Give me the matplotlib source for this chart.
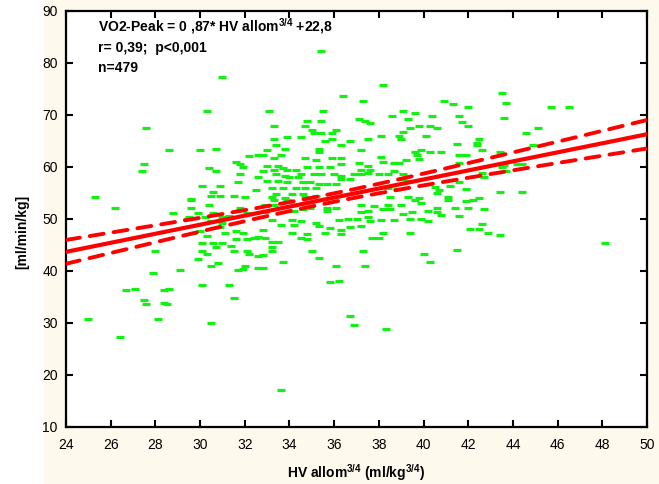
import numpy as np
import matplotlib.pyplot as plt
from matplotlib.patches import Rectangle

plt.rcParams['font.family'] = ['Liberation Sans', 'DejaVu Sans']
plt.rcParams['mathtext.fontset'] = 'custom'
plt.rcParams['mathtext.rm'] = 'Liberation Sans'
plt.rcParams['mathtext.bf'] = 'Liberation Sans:bold'

# regression stated on the chart
slope = 0.87
intercept = 22.8
n_total = 479

# scatter points (HV allom^3/4, VO2-peak)
pts = [
    (31.0, 77.3), (30.3, 70.8), (27.6, 67.5), (28.6, 63.2), (30.0, 63.2), (30.7, 63.5),
    (27.5, 60.6), (27.4, 59.2), (30.4, 59.9), (30.7, 59.2), (31.6, 60.9), (31.8, 60.5),
    (31.9, 60.0), (32.2, 62.2), (32.6, 62.3), (31.8, 58.7), (31.7, 57.2), (32.6, 58.0),
    (30.1, 56.3), (30.9, 56.3), (30.6, 55.1), (30.5, 54.4), (30.9, 54.4), (31.5, 54.4),
    (32.0, 54.2), (32.5, 55.6), (25.3, 54.2), (29.6, 53.8), (35.4, 82.4),
    (38.2, 75.8), (36.4, 73.6), (37.3, 72.7), (33.1, 70.8), (35.5, 70.8), (40.9, 72.7),
    (41.3, 72.2), (39.1, 70.8), (39.6, 70.4), (38.6, 69.8), (39.3, 69.3), (40.4, 69.8),
    (37.1, 69.3), (37.4, 68.9), (37.6, 68.4), (34.8, 68.9), (35.4, 68.9), (33.3, 67.8),
    (34.7, 67.8), (35.0, 67.1), (35.4, 66.5), (35.1, 66.5), (36.1, 67.1), (35.9, 66.5),
    (34.5, 65.7), (33.9, 65.7), (35.6, 65.0), (33.3, 65.4), (33.4, 64.3), (36.7, 65.0),
    (35.9, 65.4), (37.5, 65.4), (38.1, 66.0), (39.1, 66.7), (38.9, 66.0), (39.0, 65.4),
    (39.4, 67.5), (39.8, 67.8), (40.3, 67.8), (40.6, 67.5), (40.1, 66.0), (41.5, 64.4),
    (36.3, 64.2), (35.3, 63.5), (35.3, 62.9), (33.8, 63.5), (33.0, 63.2), (33.6, 62.3),
    (37.2, 63.2), (39.6, 62.9), (39.9, 63.2), (39.7, 62.3), (39.8, 61.5), (40.3, 62.9),
    (40.8, 62.9), (32.8, 62.3), (34.7, 61.7), (35.2, 61.4), (36.3, 61.7), (35.9, 61.7),
    (38.1, 62.0), (39.2, 61.4), (38.9, 60.8), (38.7, 60.8), (38.2, 61.0), (33.3, 61.7),
    (37.1, 60.7), (37.5, 60.2), (36.3, 60.5), (33.0, 60.1), (33.5, 60.1), (33.7, 59.8),
    (33.3, 59.4), (34.3, 59.4), (33.9, 59.4), (34.8, 60.0), (35.3, 60.0), (35.8, 60.0),
    (37.2, 59.4), (37.6, 59.4), (38.7, 59.3), (32.8, 59.3), (36.9, 58.6), (37.2, 58.6),
    (37.5, 58.9), (36.0, 58.6), (36.3, 58.3), (34.5, 58.6), (35.1, 58.6), (35.4, 58.6),
    (33.4, 58.6), (33.8, 58.3), (38.0, 58.6), (38.4, 58.6), (39.1, 58.6), (34.0, 58.0),
    (34.4, 58.0), (36.3, 57.7), (36.7, 57.7), (33.0, 57.3), (33.5, 57.3), (33.9, 57.1),
    (34.6, 57.2), (34.9, 57.1), (35.3, 56.8), (35.7, 56.8), (36.1, 56.8), (39.1, 57.7),
    (39.3, 57.4), (38.4, 56.0), (38.8, 55.7), (40.5, 56.2), (40.7, 55.6), (40.6, 55.0),
    (41.2, 56.4), (33.2, 55.9), (33.7, 55.9), (34.3, 55.9), (34.7, 55.9), (35.2, 55.9),
    (33.4, 54.9), (34.1, 54.9), (34.6, 54.9), (35.2, 54.5), (33.2, 54.3), (33.8, 54.1),
    (34.7, 54.2), (38.5, 54.3), (39.3, 54.2), (39.8, 54.1), (41.1, 54.3),
    (43.5, 74.2), (43.7, 72.3), (42.0, 71.5), (45.7, 71.5), (46.5, 71.5), (43.6, 69.4),
    (41.6, 69.8), (41.7, 68.6), (42.0, 67.9), (45.1, 67.5), (44.6, 66.5), (42.5, 65.3),
    (42.4, 64.6), (42.4, 64.2), (42.6, 63.2), (43.4, 62.9), (44.9, 64.2), (41.6, 62.3),
    (41.9, 62.3), (41.6, 60.8), (43.5, 60.0), (43.6, 60.4), (44.2, 60.6), (44.4, 60.6),
    (43.7, 59.3), (42.6, 58.9), (42.7, 58.0), (41.6, 57.2), (41.9, 55.8), (43.4, 55.1),
    (44.4, 55.1), (42.5, 54.1),
    (26.2, 52.2), (29.6, 53.7), (29.6, 52.2), (30.4, 52.6), (28.8, 51.2), (29.9, 51.2),
    (30.2, 50.3), (30.6, 51.2), (29.5, 50.3), (29.4, 50.0), (31.0, 50.3), (31.3, 50.6),
    (31.8, 52.2), (32.1, 51.2), (30.5, 49.7), (31.0, 49.3), (30.9, 48.5), (29.7, 47.3),
    (30.0, 47.6), (30.3, 46.8), (30.1, 45.4), (30.6, 45.4), (31.0, 45.4), (30.7, 44.6),
    (31.4, 44.8), (31.1, 47.4), (31.6, 47.6), (31.9, 47.4), (31.6, 46.1), (32.4, 46.3),
    (32.1, 46.1), (32.5, 46.4), (32.6, 46.6), (28.0, 43.8), (30.1, 43.8), (30.3, 43.2),
    (31.5, 43.8), (32.1, 43.8), (32.2, 43.2), (32.6, 42.9), (29.9, 42.4), (30.8, 41.6),
    (30.5, 41.0), (32.0, 41.0), (31.7, 40.2), (31.9, 40.3), (32.6, 40.5), (29.1, 40.2),
    (27.9, 39.6), (30.1, 37.3), (31.3, 37.3), (26.7, 36.3), (27.1, 36.5), (28.4, 36.3),
    (28.6, 36.5), (27.5, 34.4), (27.6, 33.6), (28.4, 33.9), (28.5, 33.6), (31.5, 34.9),
    (25.0, 30.8), (28.1, 30.8), (30.5, 30.0), (26.4, 27.4),
    (33.3, 53.7), (33.9, 53.7), (32.9, 52.7), (33.3, 52.7), (34.2, 52.7), (34.9, 52.2),
    (35.7, 52.2), (36.1, 52.2), (37.2, 52.7), (37.8, 52.5), (38.4, 52.7), (39.0, 52.7),
    (39.6, 53.7), (39.9, 53.0), (40.6, 52.1), (41.4, 52.2), (41.1, 53.7),
    (32.9, 51.3), (34.2, 51.6), (34.6, 51.9), (35.7, 51.6), (37.2, 51.3), (37.5, 51.6),
    (38.2, 51.9), (38.5, 52.0), (39.1, 51.0), (39.5, 51.3), (40.2, 51.6), (40.6, 51.3),
    (40.8, 50.7),
    (33.2, 49.8), (34.1, 49.8), (34.5, 49.7), (35.2, 49.3), (36.2, 49.8), (36.6, 50.0),
    (37.0, 50.0), (37.5, 50.3), (37.6, 49.7), (38.1, 49.8), (38.7, 49.8), (39.4, 50.0),
    (39.9, 50.0), (40.2, 49.7),
    (33.6, 48.8), (34.2, 48.8), (35.3, 48.6), (35.8, 48.2), (36.3, 47.9), (36.7, 48.5),
    (37.2, 48.6), (32.8, 47.9), (34.1, 47.3), (34.8, 47.1), (35.6, 47.4), (36.3, 47.1),
    (38.2, 47.4), (39.4, 47.4), (32.9, 46.4), (33.2, 45.6), (33.5, 45.6), (34.5, 46.4),
    (34.8, 46.1), (37.7, 46.4), (38.0, 46.4),
    (33.2, 44.7), (33.2, 43.8), (35.0, 43.8), (37.3, 43.9), (40.0, 43.2), (41.5, 44.0),
    (32.8, 43.0), (35.3, 42.5), (33.7, 41.8), (40.3, 41.8), (32.8, 40.6), (36.1, 40.9),
    (37.4, 40.9), (35.8, 37.8), (36.2, 38.1), (36.7, 31.4), (36.9, 29.7), (38.3, 28.9),
    (41.9, 53.4), (42.2, 53.6), (42.0, 52.2), (42.7, 52.0), (41.6, 50.5), (42.6, 49.1),
    (42.1, 48.0), (42.5, 48.0), (42.9, 47.3), (43.4, 46.9), (48.1, 45.3),
    (33.6, 17.2),
]
hv = np.array([p[0] for p in pts])
vo2 = np.array([p[1] for p in pts])

x_ticks = np.arange(24, 51, 2)
y_ticks = np.arange(10, 91, 10)

# fitted line and 95% confidence band (scaled to the full n)
xs = np.linspace(24, 50, 300)
fit = intercept + slope * xs
resid = vo2 - (intercept + slope * hv)
s = resid.std(ddof=2)
xm = hv.mean()
sxx = ((hv - xm) ** 2).sum() * n_total / len(hv)
half = 1.96 * s * np.sqrt(1 / n_total + (xs - xm) ** 2 / sxx)

fig = plt.figure(figsize=(6.59, 4.84), dpi=100, facecolor='white')
fig.patches.append(Rectangle((44 / 659, 0), 1, 1, transform=fig.transFigure,
                             facecolor='#fdf9ec', edgecolor='none', zorder=-1))
ax = fig.add_axes([66 / 659, 1 - 427 / 484, 581 / 659, 416 / 484])
ax.set_facecolor('white')

ax.plot(hv, vo2, linestyle='none', marker='_', markersize=6, markeredgewidth=2.3,
        color='#14f014', zorder=2)
ax.plot(xs, fit, color='#ff0000', lw=3, zorder=3)
for band in (fit + half, fit - half):
    ax.plot(xs, band, color='#ff0000', lw=2.8, linestyle=(0, (3.6, 2.6)),
            dash_capstyle='round', zorder=3)

ax.set_xlim(24, 50)
ax.set_ylim(10, 90)
ax.set_xticks(x_ticks)
ax.set_yticks(y_ticks)
ax.tick_params(direction='in', length=5, width=1.5, top=True, right=True,
               labelsize=10)
ax.tick_params(axis='x', pad=8)
ax.tick_params(axis='y', pad=6)
for sp in ax.spines.values():
    sp.set_linewidth(1.6)

ax.set_xlabel(r'HV allom$^{\mathbf{3/4}}$ (ml/kg$^{\mathbf{3/4}}$)', fontsize=10,
              fontweight='bold', labelpad=7)
fig.text(22 / 659, 1 - 232 / 484, '[ml/min/kg]', rotation=90, fontsize=10,
         fontweight='bold', ha='center', va='center')

ax.text(0.055, 0.963, r'VO2-Peak = 0 ,87* HV allom$^{\mathbf{3/4}}$ +22,8',
        transform=ax.transAxes, fontsize=10, fontweight='bold', va='center')
ax.text(0.055, 0.911, 'r= 0,39;  p<0,001', transform=ax.transAxes, fontsize=10,
        fontweight='bold', va='center')
ax.text(0.055, 0.863, 'n=479', transform=ax.transAxes, fontsize=10,
        fontweight='bold', va='center')

fig.savefig('out.png', dpi=100)
